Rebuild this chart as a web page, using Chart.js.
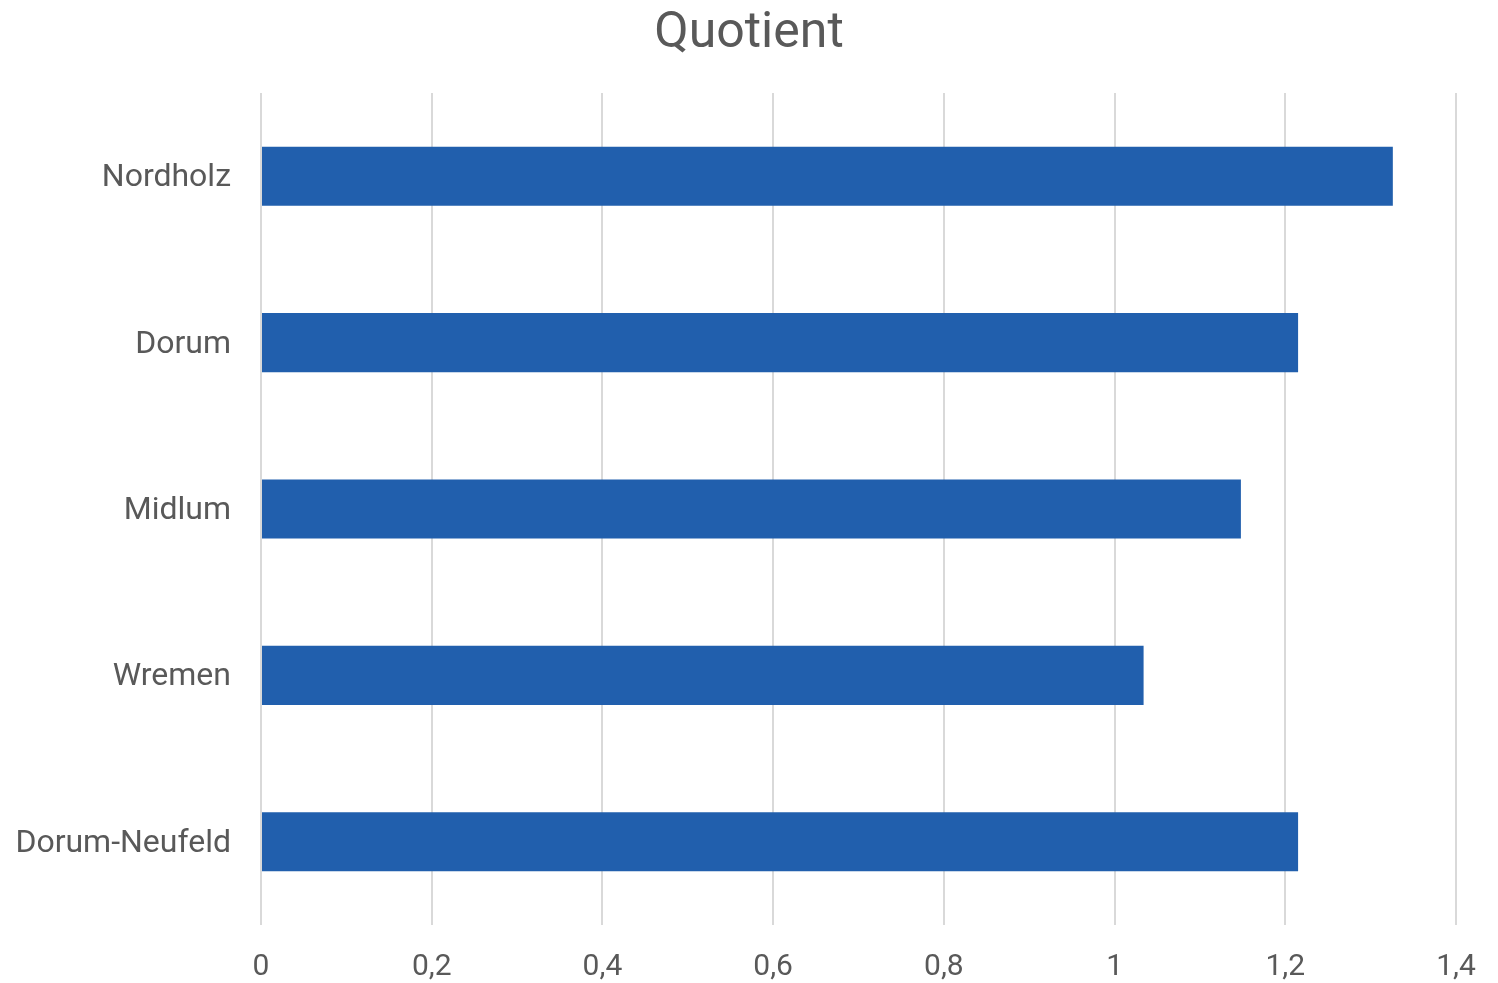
<!DOCTYPE html>
<html lang="de">
<head>
<meta charset="utf-8">
<title>Quotient</title>
<script src="https://cdn.jsdelivr.net/npm/chart.js@4"></script>
<style>
  html, body { margin: 0; padding: 0; background: #fff; }
  #wrap { width: 1498px; height: 983px; position: relative; }
</style>
</head>
<body>
<div id="wrap"><canvas id="quotientChart"></canvas></div>
<script>
  /* ── data ── */
  const categories  = ["Nordholz", "Dorum", "Midlum", "Wremen", "Dorum-Neufeld"];
  const quotient    = [1.326, 1.215, 1.148, 1.034, 1.215];
  const xTickLabels = ["0", "0,2", "0,4", "0,6", "0,8", "1", "1,2", "1,4"];

  const TEXT  = "#595959";
  const GRID  = "#d9d9d9";
  const BAR   = "#215fad";

  new Chart(document.getElementById("quotientChart"), {
    type: "bar",
    data: {
      labels: categories,
      datasets: [
        {
          label: "Quotient",
          data: quotient,
          backgroundColor: BAR,
          borderWidth: 0,
          barPercentage: 0.355,
          categoryPercentage: 1,
        },
      ],
    },
    options: {
      indexAxis: "y",
      responsive: true,
      maintainAspectRatio: false,
      animation: false,
      layout: { padding: 0 },
      plugins: {
        legend: { display: false },
        tooltip: { enabled: false },
        title: {
          display: true,
          text: "Quotient",
          color: TEXT,
          font: { family: "Roboto", size: 50, weight: "normal" },
          padding: { top: 4, bottom: 29 },
        },
      },
      scales: {
        x: {
          min: 0,
          max: 1.4,
          ticks: {
            stepSize: 0.2,
            color: TEXT,
            font: { family: "Roboto", size: 30 },
            padding: 24,
            maxRotation: 0,
            callback: (v, i) => xTickLabels[i],
          },
          grid: { color: GRID, lineWidth: 2, drawTicks: false },
          border: { display: false },
          afterFit: (axis) => {
            axis.height = 58;
            axis.paddingRight = 42;   // keep the title centred on the full canvas
          },
        },
        y: {
          ticks: {
            color: TEXT,
            font: { family: "Roboto", size: 32 },
            padding: 30,
            labelOffset: 2,
          },
          grid: { display: false, drawTicks: false },
          border: { display: false },
          afterFit: (axis) => { axis.width = 261; },
        },
      },
    },
  });
</script>
</body>
</html>
